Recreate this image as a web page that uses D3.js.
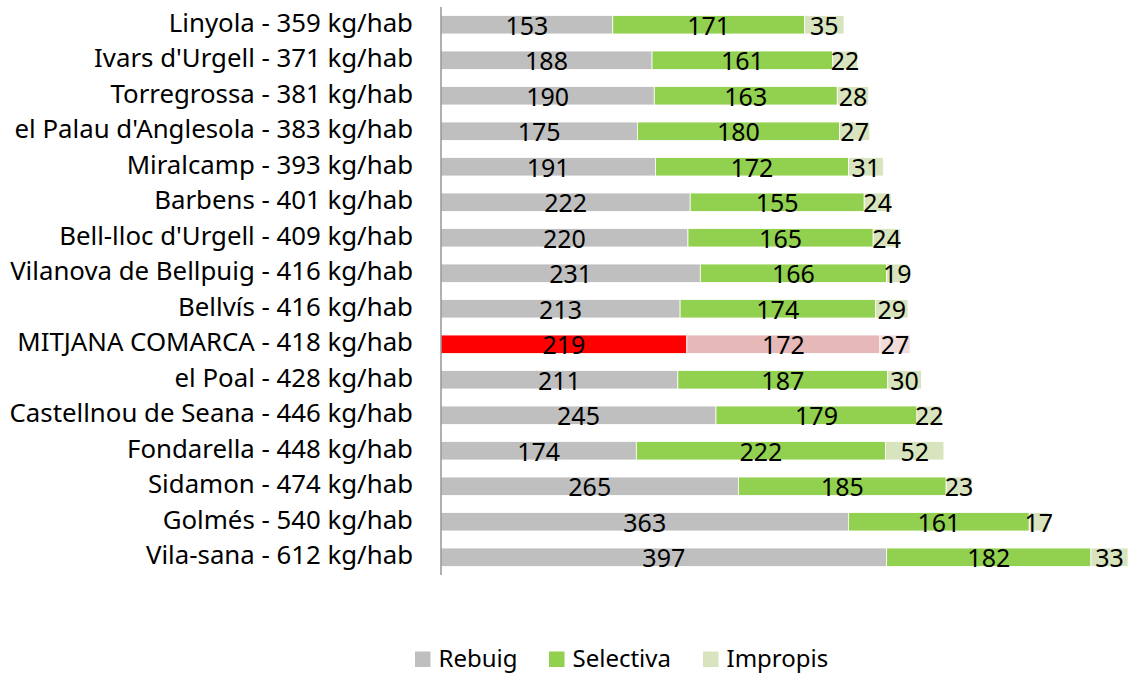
<!DOCTYPE html>
<html>
<head>
<meta charset="utf-8">
<script src="https://cdn.jsdelivr.net/npm/d3@7"></script>
<style>
  body { margin: 0; background: #fff; }
  svg text { font-family: "Noto Sans", "Open Sans", sans-serif; fill: #000; }
</style>
</head>
<body>
<div id="chart"></div>
<script>
// Generació de residus per municipi (kg/hab)
const municipis = ["Linyola", "Ivars d'Urgell", "Torregrossa", "el Palau d'Anglesola", "Miralcamp",
  "Barbens", "Bell-lloc d'Urgell", "Vilanova de Bellpuig", "Bellvís", "MITJANA COMARCA",
  "el Poal", "Castellnou de Seana", "Fondarella", "Sidamon", "Golmés", "Vila-sana"];
const totals = [359, 371, 381, 383, 393, 401, 409, 416, 416, 418, 428, 446, 448, 474, 540, 612];
const rebuig = [153, 188, 190, 175, 191, 222, 220, 231, 213, 219, 211, 245, 174, 265, 363, 397];
const selectiva = [171, 161, 163, 180, 172, 155, 165, 166, 174, 172, 187, 179, 222, 185, 161, 182];
const impropis = [35, 22, 28, 27, 31, 24, 24, 19, 29, 27, 30, 22, 52, 23, 17, 33];
const series = ["Rebuig", "Selectiva", "Impropis"];

const colors = ["#bfbfbf", "#92d050", "#d7e4bd"];
const highlightColors = ["#ff0000", "#e6b9b8", "#f2dcdb"];
const highlight = "MITJANA COMARCA";

const width = 1133, height = 673;
const margin = { top: 7, left: 441, bottom: 98 };

const rows = municipis.map((m, i) => ({
  name: m, label: `${m} - ${totals[i]} kg/hab`,
  Rebuig: rebuig[i], Selectiva: selectiva[i], Impropis: impropis[i]
}));

const stacked = d3.stack().keys(series)(rows);

const svg = d3.select("#chart").append("svg")
  .attr("width", width)
  .attr("height", height);

const x = d3.scaleLinear()
  .domain([0, d3.max(totals)])
  .range([margin.left, 1128]);

const y = d3.scaleBand()
  .domain(municipis)
  .range([margin.top, height - margin.bottom])
  .paddingInner(0.48)
  .paddingOuter(0.24);

// segments
stacked.forEach((layer, si) => {
  const g = svg.append("g");
  g.selectAll("rect")
    .data(layer)
    .join("rect")
    .attr("x", d => x(d[0]))
    .attr("y", d => y(d.data.name))
    .attr("width", d => x(d[1]) - x(d[0]))
    .attr("height", y.bandwidth())
    .attr("fill", d => d.data.name === highlight ? highlightColors[si] : colors[si])
    .attr("stroke", "#fff")
    .attr("stroke-width", 0.8);

  g.selectAll("text")
    .data(layer)
    .join("text")
    .attr("x", d => (x(d[0]) + x(d[1])) / 2)
    .attr("y", d => y(d.data.name) + y.bandwidth() / 2 + 10)
    .attr("text-anchor", "middle")
    .style("font-size", "25px")
    .text(d => d.data[series[si]]);
});

// category axis
svg.append("line")
  .attr("x1", margin.left).attr("x2", margin.left)
  .attr("y1", y.range()[0]).attr("y2", y.range()[1])
  .attr("stroke", "#868686")
  .attr("stroke-width", 1.3);

svg.append("g")
  .selectAll("text")
  .data(rows)
  .join("text")
  .attr("x", 413)
  .attr("y", d => y(d.name) + y.bandwidth() / 2 + 7)
  .attr("text-anchor", "end")
  .style("font-size", "25.8px")
  .text(d => d.label);

// legend
const legendX = [415, 549, 703];
const legend = svg.append("g");
series.forEach((s, i) => {
  legend.append("rect")
    .attr("x", legendX[i]).attr("y", 651.5)
    .attr("width", 15.5).attr("height", 15.5)
    .attr("fill", colors[i]);
  legend.append("text")
    .attr("x", legendX[i] + 23.5)
    .attr("y", 667)
    .style("font-size", "24px")
    .text(s);
});
</script>
</body>
</html>
